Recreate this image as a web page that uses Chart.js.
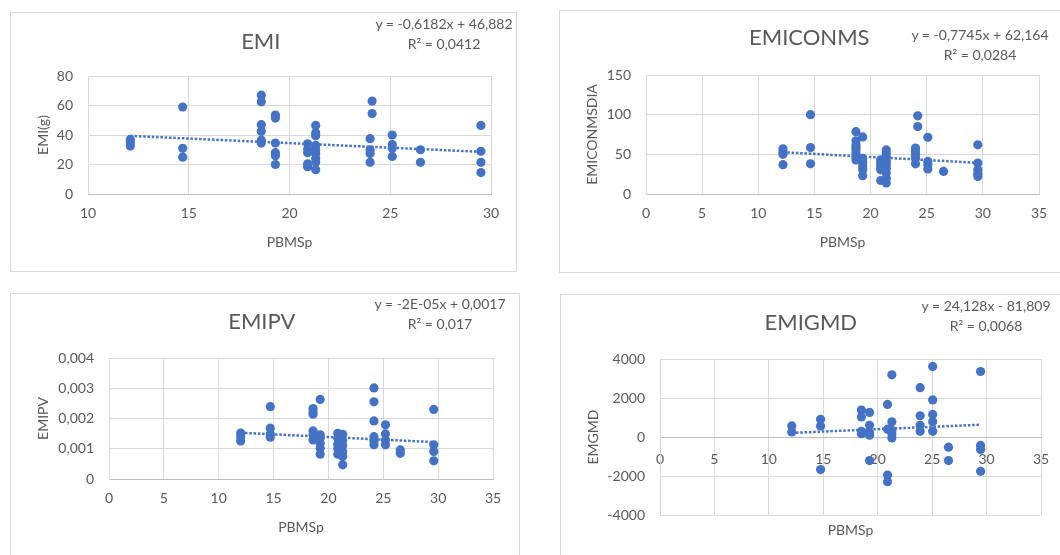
<!DOCTYPE html>
<html>
<head>
<meta charset="utf-8">
<script src="https://cdn.jsdelivr.net/npm/chart.js@4"></script>
<style>
    html, body { margin: 0; padding: 0; background: #fff; width: 1060px; height: 555px; overflow: hidden; }
    .box { position: absolute; border: 1px solid #d9d9d9; box-sizing: border-box; }
    .box canvas { position: absolute; left: -1px; top: -1px; }
    .eq { position: absolute; width: 200px; text-align: center; font: 14px Lato, sans-serif; color: #595959; line-height: 20px; white-space: nowrap; }
</style>
</head>
<body>

<div class="box" style="left:10px; top:12px; width:507px; height:260px;"><canvas id="cEmi" width="507" height="260"></canvas></div>
<div class="box" style="left:559px; top:10px; width:520px; height:263px;"><canvas id="cConms" width="520" height="263"></canvas></div>
<div class="box" style="left:10px; top:293px; width:510px; height:280px;"><canvas id="cPv" width="510" height="280"></canvas></div>
<div class="box" style="left:560px; top:294px; width:520px; height:280px;"><canvas id="cGmd" width="520" height="280"></canvas></div>

<div class="eq" style="left:344px; top:14px;">y = -0,6182x + 46,882<br>R² = 0,0412</div>
<div class="eq" style="left:880px; top:25px;">y = -0,7745x + 62,164<br>R² = 0,0284</div>
<div class="eq" style="left:340px; top:294px;">y = -2E-05x + 0,0017<br>R² = 0,017</div>
<div class="eq" style="left:886px; top:296px;">y = 24,128x - 81,809<br>R² = 0,0068</div>

<script>
// Colores y fuentes estilo Excel
const BLUE = '#4472C4';
const GREY = '#595959';
const GRID = '#d9d9d9';
const FONT = 'Lato, sans-serif';

// --- EMI ---
const emiX = [12.1, 12.1, 12.1, 14.7, 14.7, 14.7,
    18.6, 18.6, 18.6, 18.6, 18.6, 18.6, 19.3, 19.3, 19.3, 19.3, 19.3, 19.3,
    20.9, 20.9, 20.9, 20.9, 20.9, 21.3, 21.3, 21.3, 21.3, 21.3, 21.3, 21.3, 21.3, 21.3,
    24.0, 24.0, 24.0, 24.0, 24.1, 24.1, 25.1, 25.1, 25.1, 25.1, 26.5, 26.5,
    29.5, 29.5, 29.5, 29.5];
const emiY = [37, 35, 32.5, 59, 31, 25,
    67, 62.5, 47, 42.5, 36.5, 34.5, 53.5, 51.5, 34.5, 28, 26, 20,
    34, 30.5, 28, 20.5, 18.5, 46.5, 41.5, 39.5, 33, 30, 27.5, 24, 21.5, 16.5,
    37.5, 30, 27.5, 21.5, 63, 54.5, 40, 33.5, 31, 25.5, 30, 21.5,
    46.5, 29, 21.5, 14.5];
const emiTrendX = [12.1, 29.5];
const emiTrendY = [39.4, 28.6];

// --- EMICONMS ---
const conmsX = [12.2, 12.2, 12.2, 12.2, 14.65, 14.65, 14.65,
    18.7, 18.7, 18.7, 18.7, 18.7, 18.7, 18.7, 18.7, 19.3, 19.3, 19.3, 19.3, 19.3, 19.3,
    20.9, 20.9, 20.9, 20.9, 20.9, 21.4, 21.4, 21.4, 21.4, 21.4, 21.4, 21.4, 21.4, 21.4,
    24.0, 24.0, 24.0, 24.0, 24.0, 24.2, 24.2, 25.1, 25.1, 25.1, 25.1, 26.5,
    29.55, 29.55, 29.55, 29.55, 29.55];
const conmsY = [57, 53, 50, 37, 100, 58.5, 38,
    78.5, 67, 62, 59, 55.5, 51.5, 46.5, 43, 72, 45, 40, 35, 30.5, 23,
    43, 39, 35, 30.5, 17, 55.5, 51.5, 46.5, 41, 37, 32.5, 26.5, 20, 14,
    58, 53.5, 49.5, 45, 38, 98.5, 85, 71.5, 41, 37, 31.5, 28.5,
    62, 39, 30.5, 25.5, 22];
const conmsTrendX = [12.2, 29.55];
const conmsTrendY = [52.7, 39.3];

// --- EMIPV ---
const pvX = [12.0, 12.0, 12.0, 14.7, 14.7, 14.7, 14.7,
    18.6, 18.6, 18.6, 18.6, 18.6, 18.6, 19.25, 19.25, 19.25, 19.25, 19.25, 19.25,
    20.85, 20.85, 20.85, 20.85, 20.85, 21.3, 21.3, 21.3, 21.3, 21.3, 21.3,
    24.15, 24.15, 24.15, 24.15, 24.15, 24.15, 25.2, 25.2, 25.2, 25.2, 26.55, 26.55,
    29.6, 29.6, 29.6, 29.6];
const pvY = [0.00152, 0.0014, 0.00126, 0.00239, 0.00168, 0.00149, 0.00138,
    0.00233, 0.00222, 0.00214, 0.00159, 0.00146, 0.00129, 0.00263, 0.00146, 0.00135, 0.00118, 0.00102, 0.00082,
    0.00151, 0.00135, 0.00115, 0.001, 0.00082, 0.00148, 0.00129, 0.00111, 0.00091, 0.00074, 0.00047,
    0.00301, 0.00255, 0.00192, 0.0014, 0.00126, 0.00113, 0.00179, 0.00149, 0.00129, 0.00113, 0.00096, 0.00085,
    0.0023, 0.00113, 0.00091, 0.0006];
const pvTrendX = [12.0, 29.6];
const pvTrendY = [0.00153, 0.00122];

// --- EMIGMD ---
const gmdX = [12.1, 12.1, 14.75, 14.75, 14.75,
    18.5, 18.5, 18.5, 18.5, 19.25, 19.25, 19.25, 19.25, 19.25,
    20.9, 20.9, 20.9, 20.9, 21.3, 21.3, 21.3, 21.3, 21.3,
    23.9, 23.9, 23.9, 23.9, 25.05, 25.05, 25.05, 25.05, 25.05,
    26.5, 26.5, 29.45, 29.45, 29.45, 29.45];
const gmdY = [570, 260, 910, 570, -1670,
    1380, 1030, 290, 170, 1260, 600, 220, 90, -1210,
    1670, 400, -1950, -2290, 3190, 780, 340, 170, -50,
    2530, 1090, 600, 290, 3620, 1900, 1160, 780, 290,
    -520, -1210, 3360, -430, -640, -1760];
const gmdTrendX = [12.1, 29.45];
const gmdTrendY = [210, 630];

function pts(xs, ys) {
    return xs.map((x, i) => ({ x: x, y: ys[i] }));
}

function plain(v) { return String(v); }
function coma(v) { return v === 0 ? '0' : v.toFixed(3).replace('.', ','); }

function tickFont() { return { family: FONT, size: 14 }; }

function makeChart(id, p) {
    const scales = {
        x: {
            type: 'linear', min: p.xMin, max: p.xMax,
            ticks: { stepSize: 5, color: GREY, font: tickFont(), padding: p.xPad, callback: plain },
            grid: { color: GRID, drawTicks: false },
            border: { color: '#bfbfbf' },
            title: { display: true, text: 'PBMSp', color: GREY, font: tickFont() },
            afterFit: s => { s.height = p.hx; }
        },
        y: {
            type: 'linear', min: p.yMin, max: p.yMax,
            ticks: { stepSize: p.yStep, color: GREY, font: tickFont(), padding: 15, callback: p.fmt },
            grid: { color: GRID, drawTicks: false },
            border: { color: GRID },
            title: { display: true, text: p.yTitle, color: GREY, font: tickFont() },
            afterFit: s => { s.width = p.wy; }
        }
    };

    // EMIGMD: el eje X cruza en y = 0, el título va abajo en un eje aparte
    if (p.crossZero) {
        scales.x.position = { y: 0 };
        scales.x.title = { display: false };
        scales.x2 = {
            type: 'linear', position: 'bottom', min: p.xMin, max: p.xMax,
            ticks: { display: false },
            grid: { display: false },
            border: { display: false },
            title: { display: true, text: 'PBMSp', color: GREY, font: tickFont() },
            afterFit: s => { s.height = p.hx; }
        };
    }

    new Chart(document.getElementById(id), {
        type: 'scatter',
        data: {
            datasets: [
                {
                    data: pts(p.tx, p.ty), showLine: true,
                    borderColor: BLUE, borderWidth: 2.5, borderDash: [2.5, 1.8],
                    pointRadius: 0, order: 0
                },
                {
                    data: pts(p.xs, p.ys),
                    backgroundColor: BLUE, borderColor: BLUE, borderWidth: 0,
                    pointRadius: 4.6, order: 1
                }
            ]
        },
        options: {
            responsive: false,
            animation: false,
            events: [],
            layout: { padding: p.pad },
            plugins: {
                legend: { display: false },
                tooltip: { enabled: false },
                title: {
                    display: true, text: p.title, color: GREY,
                    font: { family: FONT, size: 22, weight: 'normal' },
                    padding: p.tpad
                }
            },
            scales: scales
        }
    });
}

makeChart('cEmi', {
    title: 'EMI', yTitle: 'EMI(g)',
    xs: emiX, ys: emiY, tx: emiTrendX, ty: emiTrendY,
    xMin: 10, xMax: 30, yMin: 0, yMax: 80, yStep: 20, fmt: plain, xPad: 11,
    pad: { left: 20.6, right: 26, top: 0, bottom: 17.6 },
    tpad: { top: 16.8, bottom: 20.8 }, wy: 57.4, hx: 60.4
});

makeChart('cConms', {
    title: 'EMICONMS', yTitle: 'EMICONMSDIA',
    xs: conmsX, ys: conmsY, tx: conmsTrendX, ty: conmsTrendY,
    xMin: 0, xMax: 35, yMin: 0, yMax: 150, yStep: 50, fmt: plain, xPad: 11,
    pad: { left: 20.6, right: 40, top: 0, bottom: 18.6 },
    tpad: { top: 14.8, bottom: 23.8 }, wy: 66.4, hx: 60.4
});

makeChart('cPv', {
    title: 'EMIPV', yTitle: 'EMIPV',
    xs: pvX, ys: pvY, tx: pvTrendX, ty: pvTrendY,
    xMin: 0, xMax: 35, yMin: 0, yMax: 0.004, yStep: 0.001, fmt: coma, xPad: 11,
    pad: { left: 20.6, right: 27, top: 0, bottom: 33.6 },
    tpad: { top: 15.8, bottom: 22.8 }, wy: 78.4, hx: 60.4
});

makeChart('cGmd', {
    title: 'EMIGMD', yTitle: 'EMGMD',
    xs: gmdX, ys: gmdY, tx: gmdTrendX, ty: gmdTrendY,
    xMin: 0, xMax: 35, yMin: -4000, yMax: 4000, yStep: 2000, fmt: plain, xPad: 14,
    crossZero: true,
    pad: { left: 20.6, right: 39, top: 0, bottom: 31.6 },
    tpad: { top: 15.8, bottom: 22.8 }, wy: 79.4, hx: 27.4
});
</script>
</body>
</html>
